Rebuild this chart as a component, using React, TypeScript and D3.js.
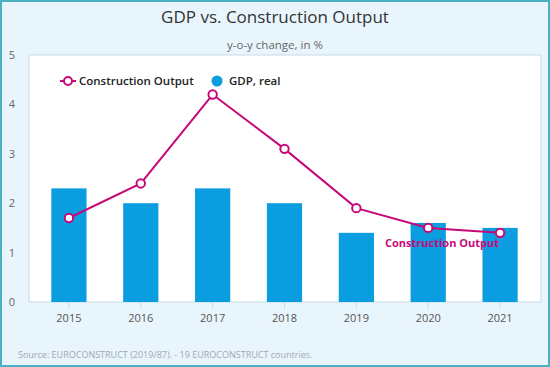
import React from "react";
import * as d3 from "d3";

const years = ["2015", "2016", "2017", "2018", "2019", "2020", "2021"];
const gdpReal = [2.3, 2.0, 2.3, 2.0, 1.4, 1.6, 1.5];
const constructionOutput = [1.7, 2.4, 4.2, 3.1, 1.9, 1.5, 1.4];
const yTicks = [0, 1, 2, 3, 4, 5];

const W = 550;
const H = 367;
const font = "'Open Sans', 'Noto Sans', sans-serif";
const blue = "#0a9de0";
const magenta = "#c8087a";

export default function App() {
  // plot frame
  const plot = { left: 29, right: 541, top: 55, bottom: 302 };

  const x = d3
    .scaleBand()
    .domain(years)
    .range([33, 536])
    .paddingInner(0.51)
    .paddingOuter(0.255);
  const y = d3.scaleLinear().domain([0, 5]).range([plot.bottom, plot.top]);
  const cx = (yr: string) => x(yr)! + x.bandwidth() / 2;

  const line = d3
    .line<number>()
    .x((_, i) => cx(years[i]))
    .y((d) => y(d));

  return (
    <svg
      width={W}
      height={H}
      style={{ position: "absolute", left: 0, top: 0, fontFamily: font }}
    >
      <rect x={1} y={1} width={W - 2} height={H - 2} fill="#e9f5fc" stroke="#4bb0c2" strokeWidth={2} />
      <rect
        x={plot.left}
        y={plot.top}
        width={plot.right - plot.left}
        height={plot.bottom - plot.top}
        fill="#ffffff"
        stroke="#c6dce6"
        strokeWidth={1}
      />

      <text x={W / 2} y={23} textAnchor="middle" fontSize={17} fill="#333">
        GDP vs. Construction Output
      </text>
      <text x={W / 2} y={49} textAnchor="middle" fontSize={11.5} fill="#666">
        y-o-y change, in %
      </text>

      {yTicks.map((t) => (
        <text key={t} x={12} y={y(t) + 4} textAnchor="middle" fontSize={11} fill="#666">
          {t}
        </text>
      ))}

      {years.map((yr) => (
        <g key={yr}>
          <line x1={cx(yr)} x2={cx(yr)} y1={plot.bottom} y2={plot.bottom + 7} stroke="#c6dce6" />
          <text x={cx(yr)} y={plot.bottom + 20} textAnchor="middle" fontSize={11} fill="#555">
            {yr}
          </text>
        </g>
      ))}

      {gdpReal.map((v, i) => (
        <rect
          key={years[i]}
          x={x(years[i])}
          y={y(v)}
          width={x.bandwidth()}
          height={y(0) - y(v)}
          fill={blue}
        />
      ))}

      <path d={line(constructionOutput)!} fill="none" stroke={magenta} strokeWidth={2} />
      {constructionOutput.map((v, i) => (
        <circle
          key={years[i]}
          cx={cx(years[i])}
          cy={y(v)}
          r={4.2}
          fill="#fff"
          stroke={magenta}
          strokeWidth={2}
        />
      ))}

      <text x={442} y={247} textAnchor="middle" fontSize={11} fontWeight="bold" fill={magenta}>
        Construction Output
      </text>

      {/* legend */}
      <g fontSize={11.5} fontWeight={600} fill="#222">
        <line x1={60} x2={76} y1={81} y2={81} stroke={magenta} strokeWidth={2} />
        <circle cx={68} cy={81} r={4} fill="#fff" stroke={magenta} strokeWidth={2} />
        <text x={79} y={85}>Construction Output</text>
        <circle cx={217} cy={81} r={5.5} fill={blue} />
        <text x={229} y={85}>GDP, real</text>
      </g>

      <text x={18} y={358} fontSize={9} fill="#9ea8b0">
        Source: EUROCONSTRUCT (2019/87). - 19 EUROCONSTRUCT countries.
      </text>
    </svg>
  );
}
